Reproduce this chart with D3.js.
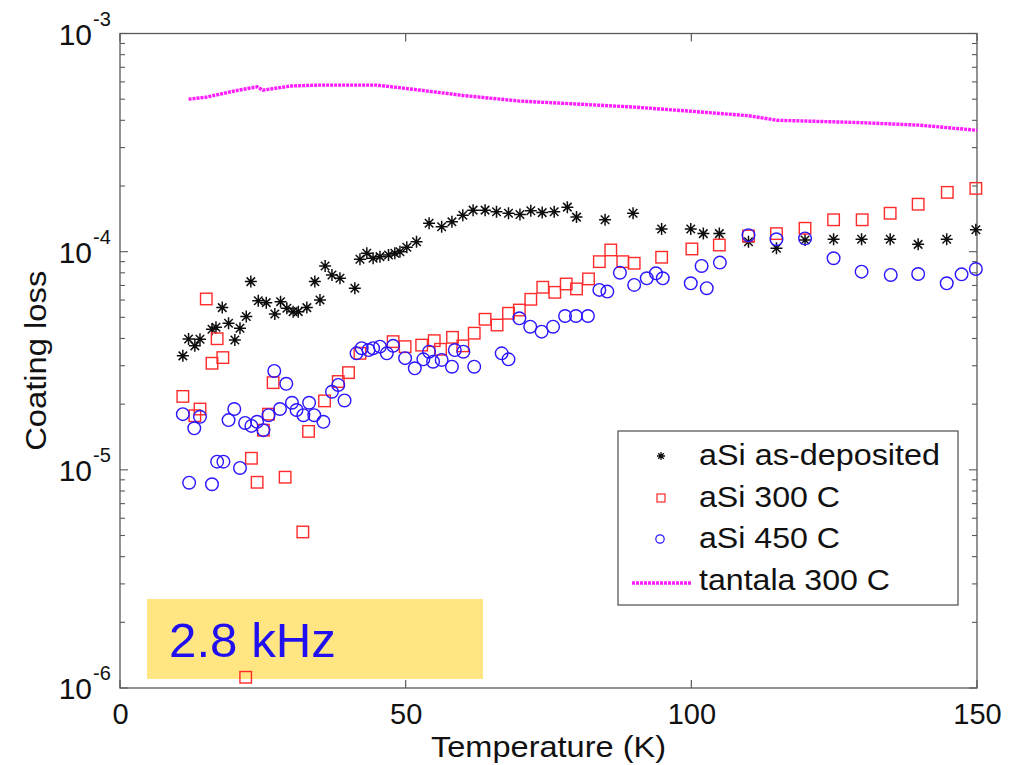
<!DOCTYPE html>
<html>
<head>
<meta charset="utf-8">
<script src="https://cdn.jsdelivr.net/npm/d3@7"></script>
<style>
  html, body { margin: 0; padding: 0; background: #fff; }
  svg { display: block; }
  text { font-family: "Liberation Sans", Arial, Helvetica, sans-serif; fill: #111; }
</style>
</head>
<body>
<svg id="chart" width="1009" height="765"></svg>
<script>
// aSi as-deposited
const asDepTemp = [11.0,12.0,13.1,14.0,16.1,16.8,17.9,19.0,20.1,21.0,22.1,22.9,24.2,25.6,27.1,28.1,29.2,30.3,31.2,32.7,34.1,35.0,35.9,37.1,38.5,41.1,42.0,43.2,44.3,45.5,47.0,48.1,49.0,50.2,51.9,54.1,56.3,58.1,60.0,61.8,63.9,65.9,68.0,70.0,71.9,73.9,76.0,78.3,79.9,84.9,89.8,94.8,99.9,102.1,104.9,110.0,114.9,119.9,124.9,129.8,134.8,139.7,144.7,149.8];
const asDepLoss = [3.33e-5,3.98e-5,3.70e-5,3.97e-5,4.41e-5,4.50e-5,5.54e-5,4.70e-5,3.94e-5,4.46e-5,5.04e-5,7.29e-5,5.96e-5,5.84e-5,5.18e-5,5.90e-5,5.50e-5,5.31e-5,5.31e-5,5.54e-5,7.29e-5,6.01e-5,8.60e-5,7.82e-5,7.55e-5,6.80e-5,9.23e-5,9.83e-5,9.33e-5,9.49e-5,9.66e-5,9.83e-5,1.00e-4,1.047e-4,1.11e-4,1.35e-4,1.30e-4,1.37e-4,1.47e-4,1.55e-4,1.55e-4,1.525e-4,1.50e-4,1.48e-4,1.54e-4,1.51e-4,1.525e-4,1.60e-4,1.44e-4,1.40e-4,1.50e-4,1.27e-4,1.27e-4,1.21e-4,1.21e-4,1.11e-4,1.036e-4,1.13e-4,1.14e-4,1.14e-4,1.14e-4,1.08e-4,1.14e-4,1.26e-4];

// aSi annealed at 300 C
const a300Temp = [11.0,13.1,14.0,15.1,16.1,17.0,18.0,22.0,23.0,24.0,25.1,26.0,26.8,28.9,32.0,33.0,35.8,38.2,40.0,42.0,47.8,49.9,52.8,55.0,56.1,58.2,60.0,62.0,63.9,66.0,68.0,69.9,71.9,74.0,76.1,78.1,79.9,82.0,83.9,85.9,88.0,90.0,94.8,100.1,104.9,110.0,114.9,119.9,124.9,129.9,134.8,139.7,144.8,149.8];
const a300Loss = [2.17e-5,1.77e-5,1.90e-5,6.07e-5,3.08e-5,3.99e-5,3.27e-5,1.12e-6,1.13e-5,8.77e-6,1.52e-5,1.80e-5,2.51e-5,9.25e-6,5.19e-6,1.50e-5,2.07e-5,2.54e-5,2.79e-5,3.42e-5,3.87e-5,3.67e-5,3.73e-5,3.91e-5,3.57e-5,4.05e-5,3.70e-5,4.23e-5,4.90e-5,4.61e-5,5.22e-5,5.40e-5,6.05e-5,6.87e-5,6.51e-5,7.11e-5,6.75e-5,7.50e-5,9.00e-5,1.018e-4,9.00e-5,8.85e-5,9.43e-5,1.029e-4,1.073e-4,1.18e-4,1.21e-4,1.28e-4,1.40e-4,1.40e-4,1.50e-4,1.65e-4,1.87e-4,1.95e-4];

// aSi annealed at 450 C
const a450Temp = [11.0,12.1,13.0,14.0,16.1,17.0,18.1,19.0,20.0,21.0,21.9,23.0,24.0,25.1,26.0,27.0,28.0,29.1,30.1,30.9,32.1,33.1,34.0,35.6,37.1,38.2,39.3,41.4,42.3,43.5,44.3,45.5,46.7,47.8,49.9,51.6,53.1,54.1,54.8,56.3,58.1,58.6,60.1,62.0,66.8,68.0,69.9,71.8,73.8,75.8,77.9,79.8,81.9,83.9,85.3,87.5,90.0,92.2,93.8,95.0,99.9,101.8,102.7,105.0,110.0,114.9,119.9,124.9,129.8,134.9,139.7,144.7,147.3,149.8];
const a450Loss = [1.80e-5,8.73e-6,1.55e-5,1.75e-5,8.59e-6,1.09e-5,1.09e-5,1.69e-5,1.90e-5,1.02e-5,1.64e-5,1.59e-5,1.66e-5,1.52e-5,1.78e-5,2.84e-5,1.90e-5,2.48e-5,2.03e-5,1.88e-5,1.78e-5,2.03e-5,1.78e-5,1.66e-5,2.28e-5,2.45e-5,2.08e-5,3.42e-5,3.61e-5,3.54e-5,3.61e-5,3.67e-5,3.42e-5,3.70e-5,3.25e-5,2.92e-5,3.21e-5,3.48e-5,3.13e-5,3.19e-5,2.97e-5,3.54e-5,3.48e-5,2.97e-5,3.42e-5,3.21e-5,4.95e-5,4.53e-5,4.30e-5,4.53e-5,5.07e-5,5.07e-5,5.07e-5,6.68e-5,6.56e-5,8.01e-5,7.04e-5,7.55e-5,7.96e-5,7.55e-5,7.16e-5,8.60e-5,6.80e-5,8.91e-5,1.19e-4,1.14e-4,1.15e-4,9.33e-5,8.10e-5,7.82e-5,7.90e-5,7.16e-5,7.87e-5,8.33e-5];

// tantala annealed at 300 C
const taTemp = [12,15,20,24,25,27,30,35,40,45,50,55,60,70,80,90,100,110,115,120,130,140,150];
const taLoss = [5.0e-4,5.1e-4,5.45e-4,5.7e-4,5.5e-4,5.6e-4,5.75e-4,5.8e-4,5.8e-4,5.8e-4,5.6e-4,5.4e-4,5.2e-4,4.9e-4,4.75e-4,4.6e-4,4.4e-4,4.2e-4,4.0e-4,3.97e-4,3.9e-4,3.8e-4,3.6e-4];

// axis ticks and labels
const xTicks = [0, 50, 100, 150];
const yDecades = [-6, -5, -4, -3];
const seriesNames = ["aSi as-deposited", "aSi 300 C", "aSi 450 C", "tantala 300 C"];
const noteText = "2.8 kHz";

const svg = d3.select("#chart");
const L = 120, R = 977, T = 33.5, B = 688;

const x = d3.scaleLinear().domain([0, 150]).range([L, R]);
const y = d3.scaleLog().domain([1e-6, 1e-3]).range([B, T]);

const frameColor = "#5a5a5a";

const defs = svg.append("defs");
defs.append("filter").attr("id", "soft")
  .append("feGaussianBlur").attr("stdDeviation", 0.45);

// annotation box (behind the markers)
svg.append("rect")
  .attr("x", 147).attr("y", 599).attr("width", 336).attr("height", 80)
  .attr("fill", "#ffe682");
svg.append("text")
  .attr("x", 169).attr("y", 657)
  .attr("font-size", 49)
  .attr("textLength", 167).attr("lengthAdjust", "spacingAndGlyphs")
  .style("fill", "#2010f0")
  .text(noteText);

// axes box
svg.append("rect")
  .attr("x", L).attr("y", T).attr("width", R - L).attr("height", B - T)
  .attr("fill", "none").attr("stroke", frameColor).attr("stroke-width", 1.3);

// x tick labels
const axisX = d3.axisBottom(x).tickValues(xTicks).tickSize(0).tickPadding(0).tickFormat(d3.format("d"));
const gx = svg.append("g").attr("transform", `translate(0,${B})`).call(axisX);
gx.select(".domain").remove();
gx.selectAll("text")
  .attr("y", 36).attr("dy", null)
  .attr("font-size", 29)
  .attr("font-family", "Liberation Sans, Arial, sans-serif")
  .style("fill", "#111");
// x ticks (inward, bottom and top)
xTicks.forEach(v => {
  svg.append("line").attr("x1", x(v)).attr("x2", x(v)).attr("y1", B).attr("y2", B - 8)
    .attr("stroke", frameColor).attr("stroke-width", 1.2);
  svg.append("line").attr("x1", x(v)).attr("x2", x(v)).attr("y1", T).attr("y2", T + 8)
    .attr("stroke", frameColor).attr("stroke-width", 1.2);
});

// y ticks (log, major and minor, inward on both sides)
const yTickVals = [];
for (let e = -6; e < -3; e++) {
  for (let m = 1; m <= 9; m++) yTickVals.push(m * Math.pow(10, e));
}
yTickVals.push(1e-3);
yTickVals.forEach(v => {
  const major = Math.abs(Math.log10(v) - Math.round(Math.log10(v))) < 1e-9;
  const len = major ? 8 : 5;
  const yy = y(v);
  svg.append("line").attr("x1", L).attr("x2", L + len).attr("y1", yy).attr("y2", yy)
    .attr("stroke", frameColor).attr("stroke-width", 1.1);
  svg.append("line").attr("x1", R).attr("x2", R - len).attr("y1", yy).attr("y2", yy)
    .attr("stroke", frameColor).attr("stroke-width", 1.1);
});
yDecades.forEach(e => {
  const yy = y(Math.pow(10, e));
  svg.append("text").attr("x", 92).attr("y", yy + 11)
    .attr("text-anchor", "end").attr("font-size", 30).text("10");
  svg.append("text").attr("x", 93).attr("y", yy - 8)
    .attr("font-size", 20).text("-" + Math.abs(e));
});

// axis titles
svg.append("text")
  .attr("x", (L + R) / 2).attr("y", 757)
  .attr("text-anchor", "middle").attr("font-size", 29)
  .attr("textLength", 235).attr("lengthAdjust", "spacingAndGlyphs")
  .text("Temperature (K)");
svg.append("text")
  .attr("transform", `translate(46,${(T + B) / 2}) rotate(-90)`)
  .attr("text-anchor", "middle").attr("font-size", 29)
  .attr("textLength", 180).attr("lengthAdjust", "spacingAndGlyphs")
  .text("Coating loss");

// marker shapes
function starPath(r) {
  const d = r * Math.SQRT1_2;
  return `M${-r},0L${r},0M0,${-r}L0,${r}M${-d},${-d}L${d},${d}M${-d},${d}L${d},${-d}`;
}

const plot = svg.append("g").attr("filter", "url(#soft)");

// tantala line
const taData = taTemp.map((t, i) => [t, taLoss[i]]);
plot.append("path")
  .datum(taData)
  .attr("d", d3.line().x(d => x(d[0])).y(d => y(d[1])))
  .attr("fill", "none")
  .attr("stroke", "#ff1aff")
  .attr("stroke-width", 3.4)
  .attr("stroke-dasharray", "3,1");

// aSi as-deposited (asterisks)
plot.append("g").selectAll("path")
  .data(asDepTemp.map((t, i) => [t, asDepLoss[i]]))
  .join("path")
  .attr("transform", d => `translate(${x(d[0])},${y(d[1])})`)
  .attr("d", starPath(6))
  .attr("stroke", "#111").attr("stroke-width", 1.5).attr("fill", "none");

// aSi 300 C (squares)
const sq = 11.5;
plot.append("g").selectAll("rect")
  .data(a300Temp.map((t, i) => [t, a300Loss[i]]))
  .join("rect")
  .attr("x", d => x(d[0]) - sq / 2).attr("y", d => y(d[1]) - sq / 2)
  .attr("width", sq).attr("height", sq)
  .attr("fill", "none").attr("stroke", "#ff2a2a").attr("stroke-width", 1.4);

// aSi 450 C (circles)
plot.append("g").selectAll("circle")
  .data(a450Temp.map((t, i) => [t, a450Loss[i]]))
  .join("circle")
  .attr("cx", d => x(d[0])).attr("cy", d => y(d[1])).attr("r", 6.3)
  .attr("fill", "none").attr("stroke", "#2a14ff").attr("stroke-width", 1.4);

// legend
const lg = svg.append("g");
lg.append("rect")
  .attr("x", 618).attr("y", 431).attr("width", 340).attr("height", 174)
  .attr("fill", "#fff").attr("stroke", frameColor).attr("stroke-width", 1.3);
const rowY = [456, 498, 539, 583];
const textBase = [465, 507, 548, 590];
const textWidth = [241, 141, 141, 191];
const lgSym = lg.append("g").attr("filter", "url(#soft)");
lgSym.append("path").attr("transform", `translate(661,${rowY[0]})`)
  .attr("d", starPath(4)).attr("stroke", "#111").attr("stroke-width", 1.3).attr("fill", "none");
lgSym.append("rect").attr("x", 657).attr("y", rowY[1] - 4).attr("width", 8).attr("height", 8)
  .attr("fill", "none").attr("stroke", "#ff2a2a").attr("stroke-width", 1.2);
lgSym.append("circle").attr("cx", 660).attr("cy", rowY[2]).attr("r", 4.2)
  .attr("fill", "none").attr("stroke", "#2a14ff").attr("stroke-width", 1.2);
lgSym.append("line").attr("x1", 632).attr("x2", 692).attr("y1", rowY[3]).attr("y2", rowY[3])
  .attr("stroke", "#ff1aff").attr("stroke-width", 3.4).attr("stroke-dasharray", "3,1");
seriesNames.forEach((name, i) => {
  lg.append("text").attr("x", 699).attr("y", textBase[i])
    .attr("font-size", 29)
    .attr("textLength", textWidth[i]).attr("lengthAdjust", "spacingAndGlyphs")
    .text(name);
});
</script>
</body>
</html>
